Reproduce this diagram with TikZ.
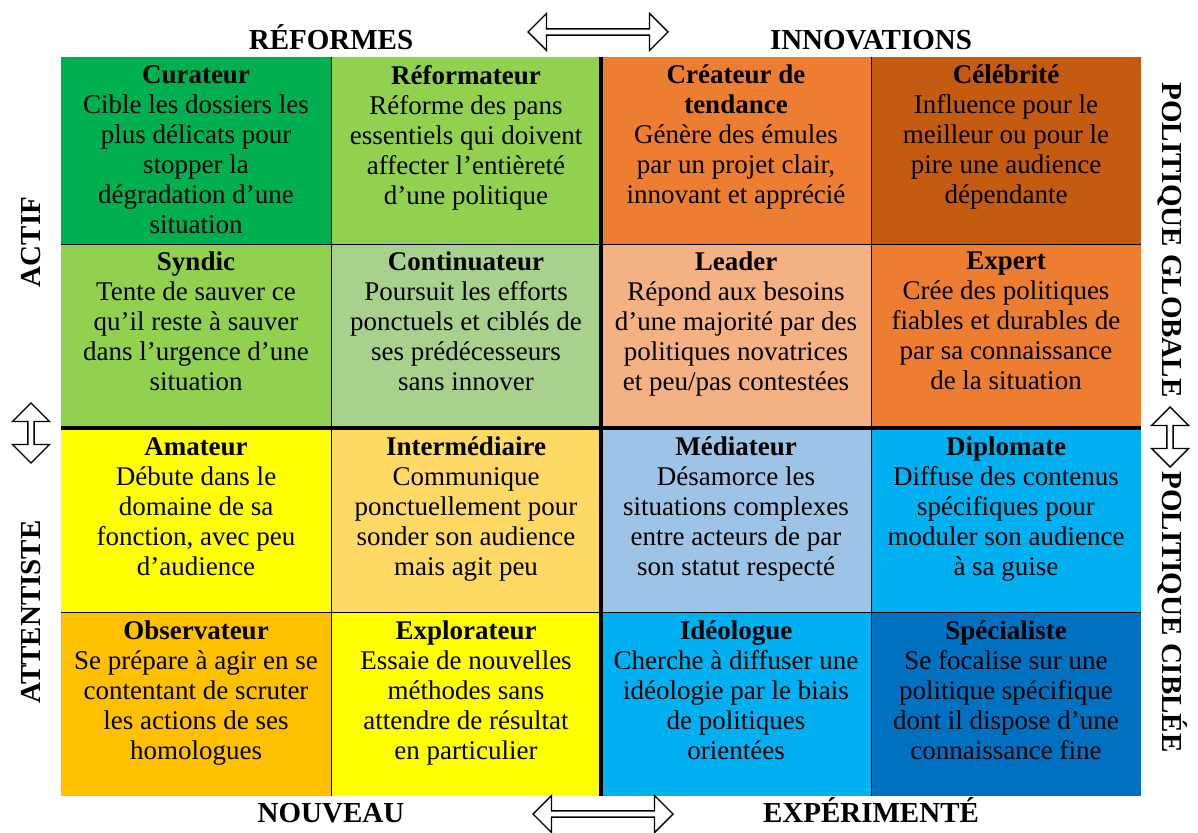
\documentclass[tikz,border=0pt]{standalone}
\usepackage{fontspec}
\setmainfont{Liberation Serif}
\usetikzlibrary{positioning,shapes.arrows}

\definecolor{vertfonce}{RGB}{0,176,80}
\definecolor{vert}{RGB}{146,208,80}
\definecolor{vertpale}{RGB}{169,209,142}
\definecolor{orange}{RGB}{237,125,49}
\definecolor{orangefonce}{RGB}{197,90,17}
\definecolor{saumon}{RGB}{244,177,131}
\definecolor{jaune}{RGB}{255,255,0}
\definecolor{jaunepale}{RGB}{255,217,102}
\definecolor{ambre}{RGB}{255,192,0}
\definecolor{bleupale}{RGB}{157,195,230}
\definecolor{cyan}{RGB}{0,176,240}
\definecolor{bleu}{RGB}{0,112,192}

\tikzset{
  case/.style={minimum width=270pt,minimum height=184pt,inner sep=0pt,outer sep=0pt},
  texte/.style={align=center,inner sep=0pt,font=\fontsize{27}{30}\selectfont},
  lbl/.style={inner sep=0pt,text height=20pt,text depth=0pt,font=\fontsize{29}{30}\selectfont\bfseries},
  fleche/.style={double arrow,draw,line width=1.4pt,fill=white,inner sep=0pt,
    minimum height=140pt,minimum width=37pt,double arrow head extend=3.5pt},
  fin/.style={line width=1pt},
  epais/.style={line width=3.5pt}
}

\begin{document}
\begin{tikzpicture}[x=1pt,y=-1pt,node distance=0pt]
    \useasboundingbox (0,0) rectangle (1198,832);
    % cases
    \node[case,fill=vertfonce,minimum height=187pt,anchor=north west](c11) at (61,57){};
    \node[case,fill=vert,minimum height=187pt](c12)[right =of c11]{};
    \node[case,fill=orange,minimum height=187pt](c13)[right =of c12]{};
    \node[case,fill=orangefonce,minimum height=187pt](c14)[right =of c13]{};
    \node[case,fill=vert](c21)[below =of c11]{};
    \node[case,fill=vertpale](c22)[right =of c21]{};
    \node[case,fill=saumon](c23)[right =of c22]{};
    \node[case,fill=orange](c24)[right =of c23]{};
    \node[case,fill=jaune](c31)[below =of c21]{};
    \node[case,fill=jaunepale](c32)[right =of c31]{};
    \node[case,fill=bleupale](c33)[right =of c32]{};
    \node[case,fill=cyan](c34)[right =of c33]{};
    \node[case,fill=ambre](c41)[below =of c31]{};
    \node[case,fill=jaune](c42)[right =of c41]{};
    \node[case,fill=cyan](c43)[right =of c42]{};
    \node[case,fill=bleu](c44)[right =of c43]{};
    % traits
    \draw[fin](c11.south west) -- (c14.south east);
    \draw[fin](c31.south west) -- (c34.south east);
    \draw[fin](c12.north west) -- (c42.south west);
    \draw[fin](c14.north west) -- (c44.south west);
    \draw[epais](c21.south west) -- (c24.south east);
    \draw[epais](c13.north west) -- (c43.south west);
    % textes
    \node[texte](t11)[below=8pt of c11.north]{\textbf{Curateur}\\Cible les dossiers les\\plus délicats pour\\stopper la\\dégradation d’une\\situation};
    \node[texte](t12)[below=8pt of c12.north]{\textbf{Réformateur}\\Réforme des pans\\essentiels qui doivent\\affecter l’entièreté\\d’une politique};
    \node[texte](t13)[below=8pt of c13.north]{\textbf{Créateur de}\\\textbf{tendance}\\Génère des émules\\par un projet clair,\\innovant et apprécié};
    \node[texte](t14)[below=8pt of c14.north]{\textbf{Célébrité}\\Influence pour le\\meilleur ou pour le\\pire une audience\\dépendante};
    \node[texte](t21)[below=8pt of c21.north]{\textbf{Syndic}\\Tente de sauver ce\\qu’il reste à sauver\\dans l’urgence d’une\\situation};
    \node[texte](t22)[below=8pt of c22.north]{\textbf{Continuateur}\\Poursuit les efforts\\ponctuels et ciblés de\\ses prédécesseurs\\sans innover};
    \node[texte](t23)[below=8pt of c23.north]{\textbf{Leader}\\Répond aux besoins\\d’une majorité par des\\politiques novatrices\\et peu/pas contestées};
    \node[texte](t24)[below=8pt of c24.north]{\textbf{Expert}\\Crée des politiques\\fiables et durables de\\par sa connaissance\\de la situation};
    \node[texte](t31)[below=9pt of c31.north]{\textbf{Amateur}\\Débute dans le\\domaine de sa\\fonction, avec peu\\d’audience};
    \node[texte](t32)[below=9pt of c32.north]{\textbf{Intermédiaire}\\Communique\\ponctuellement pour\\sonder son audience\\mais agit peu};
    \node[texte](t33)[below=9pt of c33.north]{\textbf{Médiateur}\\Désamorce les\\situations complexes\\entre acteurs de par\\son statut respecté};
    \node[texte](t34)[below=9pt of c34.north]{\textbf{Diplomate}\\Diffuse des contenus\\spécifiques pour\\moduler son audience\\à sa guise};
    \node[texte](t41)[below=9pt of c41.north]{\textbf{Observateur}\\Se prépare à agir en se\\contentant de scruter\\les actions de ses\\homologues};
    \node[texte](t42)[below=9pt of c42.north]{\textbf{Explorateur}\\Essaie de nouvelles\\méthodes sans\\attendre de résultat\\en particulier};
    \node[texte](t43)[below=9pt of c43.north]{\textbf{Idéologue}\\Cherche à diffuser une\\idéologie par le biais\\de politiques\\orientées};
    \node[texte](t44)[below=9pt of c44.north]{\textbf{Spécialiste}\\Se focalise sur une\\politique spécifique\\dont il dispose d’une\\connaissance fine};
    % axes
    \node[lbl](reformes)[above=7pt of c11.north east]{RÉFORMES};
    \node[lbl](innovations)[above=7pt of c13.north east]{INNOVATIONS};
    \node[lbl](nouveau)[below=6pt of c41.south east]{NOUVEAU};
    \node[lbl](experimente)[below=6pt of c43.south east]{EXPÉRIMENTÉ};
    \node[lbl,rotate=90](actif) at (30,242){ACTIF};
    \node[lbl,rotate=90](attentiste) at (30,612){ATTENTISTE};
    \node[lbl,rotate=-90](globale) at (1172,240){POLITIQUE GLOBALE};
    \node[lbl,rotate=-90](ciblee) at (1172,612){POLITIQUE CIBLÉE};
    % fleches
    \node[fleche](fhaut) at (598,32){};
    \node[fleche](fbas) at (603,814){};
    \node[fleche,rotate=90,minimum height=60pt](fgauche) at (31,433){};
    \node[fleche,rotate=90,minimum height=60pt](fdroite) at (1170,437){};
\end{tikzpicture}
\end{document}
